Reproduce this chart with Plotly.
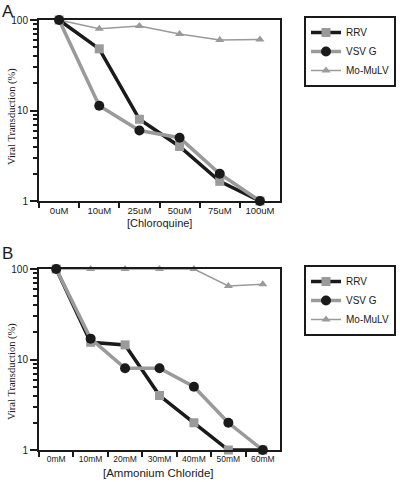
import plotly.graph_objects as go

W, H = 400, 482

# ---- data ----
cats_a = ["0uM", "10uM", "25uM", "50uM", "75uM", "100uM"]
rrv_a = [100, 48, 8, 4, 1.65, 1]
vsv_a = [100, 11.3, 6.0, 5.0, 2.0, 1]
mo_a = [100, 80, 86, 70, 60, 61]

cats_b = ["0mM", "10mM", "20mM", "30mM", "40mM", "50mM", "60mM"]
rrv_b = [100, 15.5, 14.5, 4.0, 2.0, 1, 1]
vsv_b = [100, 17, 8, 8, 5, 2, 1]
mo_b = [100, 100, 100, 100, 100, 65, 68]

series_names = ["RRV", "VSV G", "Mo-MuLV"]
ytick_vals = [1, 10, 100]
ytick_text = ["1", "10", "100"]
yminor_vals = [2, 3, 4, 5, 6, 7, 8, 9, 20, 30, 40, 50, 60, 70, 80, 90]

BLACK = "#1a1a1a"
GRAY = "#9a9a9a"
SANS = "Liberation Sans, Arial, sans-serif"
SERIF = "Liberation Serif, Times New Roman, serif"

def px_x(p):
    return p / W

def px_y(p):
    return 1 - p / H

fig = go.Figure()

def add_panel(cats, rrv, vsv, mo, xa, ya_main, ya_over, leg):
    # Mo-MuLV on the main axis (major ticks), RRV / VSV G on the overlay axis (minor ticks);
    # both axes share the identical log range.
    fig.add_trace(go.Scatter(x=cats, y=mo, name=series_names[2], mode="lines+markers",
                             line=dict(color=GRAY, width=1.5),
                             marker=dict(symbol="triangle-up", size=8, color=GRAY),
                             xaxis=xa, yaxis=ya_main, legend=leg, cliponaxis=False, legendrank=3))
    fig.add_trace(go.Scatter(x=cats, y=rrv, name=series_names[0], mode="lines+markers",
                             line=dict(color=BLACK, width=3.5),
                             marker=dict(symbol="square", size=9, color=GRAY),
                             xaxis=xa, yaxis=ya_over, legend=leg, cliponaxis=False, legendrank=1))
    fig.add_trace(go.Scatter(x=cats, y=vsv, name=series_names[1], mode="lines+markers",
                             line=dict(color=GRAY, width=3.5),
                             marker=dict(symbol="circle", size=10, color=BLACK),
                             xaxis=xa, yaxis=ya_over, legend=leg, cliponaxis=False, legendrank=2))

add_panel(cats_a, rrv_a, vsv_a, mo_a, "x", "y", "y3", "legend")
add_panel(cats_b, rrv_b, vsv_b, mo_b, "x2", "y2", "y4", "legend2")

xdom = [px_x(39), px_x(280)]
dom_a = [px_y(201), px_y(20)]
dom_b = [px_y(450), px_y(269)]
common_x = dict(type="category", tickson="boundaries", ticks="outside", ticklen=5,
                tickwidth=1.5, tickcolor=BLACK, showline=True, linewidth=2,
                linecolor=BLACK, mirror=True, showgrid=False, zeroline=False,
                automargin=False, tickangle=0, domain=xdom)
minor_spec = dict(tickmode="array", tickvals=yminor_vals, ticks="outside",
                  ticklen=4.5, tickwidth=1.5, tickcolor=BLACK, showgrid=False)
common_y = dict(type="log", range=[0, 2], tickmode="array", tickvals=ytick_vals,
                ticktext=ytick_text, automargin=False,
                ticks="outside", ticklen=7, tickwidth=1.5, tickcolor=BLACK,
                showline=True, linewidth=2, linecolor=BLACK, mirror=True,
                showgrid=False, zeroline=False,
                tickfont=dict(family=SANS, size=10, color=BLACK),
                minor=minor_spec)
# overlay axes that carry the minor ticks too
minor_y = dict(type="log", range=[0, 2], tickmode="array", tickvals=yminor_vals,
               showticklabels=False, ticks="outside", ticklen=4.5, tickwidth=1.5,
               tickcolor=BLACK, showline=False, showgrid=False, zeroline=False,
               automargin=False, side="left")

leg_common = dict(xanchor="left", yanchor="top", bordercolor=BLACK, borderwidth=2,
                  bgcolor="white", font=dict(family=SANS, size=10, color=BLACK),
                  itemwidth=30, tracegroupgap=0, traceorder="normal")

fig.update_layout(
    template="none",
    width=W, height=H, autosize=False,
    margin=dict(l=0, r=0, t=0, b=0),
    paper_bgcolor="white", plot_bgcolor="white",
    xaxis=dict(common_x, anchor="y", range=[-0.5, 5.5],
               tickfont=dict(family=SANS, size=9.5, color=BLACK)),
    yaxis=dict(common_y, anchor="x", domain=dom_a),
    yaxis3=dict(minor_y, anchor="x", overlaying="y"),
    xaxis2=dict(common_x, anchor="y2", range=[-0.5, 6.5],
                tickfont=dict(family=SANS, size=8.5, color=BLACK)),
    yaxis2=dict(common_y, anchor="x2", domain=dom_b),
    yaxis4=dict(minor_y, anchor="x2", overlaying="y2"),
    legend=dict(leg_common, x=px_x(304), y=px_y(16)),
    legend2=dict(leg_common, x=px_x(304), y=px_y(265)),
    showlegend=True,
)

annos = [
    dict(text="A", x=px_x(0), y=px_y(0), xanchor="left", yanchor="top",
         font=dict(family=SANS, size=17, color=BLACK)),
    dict(text="B", x=px_x(0), y=px_y(242), xanchor="left", yanchor="top",
         font=dict(family=SANS, size=17, color=BLACK)),
    dict(text="Viral Transduction (%)", x=px_x(12), y=px_y(117), textangle=-90,
         xanchor="center", yanchor="middle", font=dict(family=SERIF, size=10.5, color=BLACK)),
    dict(text="Viral Transduction (%)", x=px_x(12), y=px_y(372), textangle=-90,
         xanchor="center", yanchor="middle", font=dict(family=SERIF, size=10.5, color=BLACK)),
    dict(text="[Chloroquine]", x=px_x(159), y=px_y(223), xanchor="center", yanchor="middle",
         font=dict(family=SANS, size=11, color=BLACK)),
    dict(text="[Ammonium Chloride]", x=px_x(158), y=px_y(473), xanchor="center", yanchor="middle",
         font=dict(family=SANS, size=11.5, color=BLACK)),
]
for a in annos:
    a.update(xref="paper", yref="paper", showarrow=False)
fig.update_layout(annotations=annos)

fig.write_html("out.html", config={"displayModeBar": False},
               post_script="document.body.style.margin='0';document.body.style.padding='0';")
